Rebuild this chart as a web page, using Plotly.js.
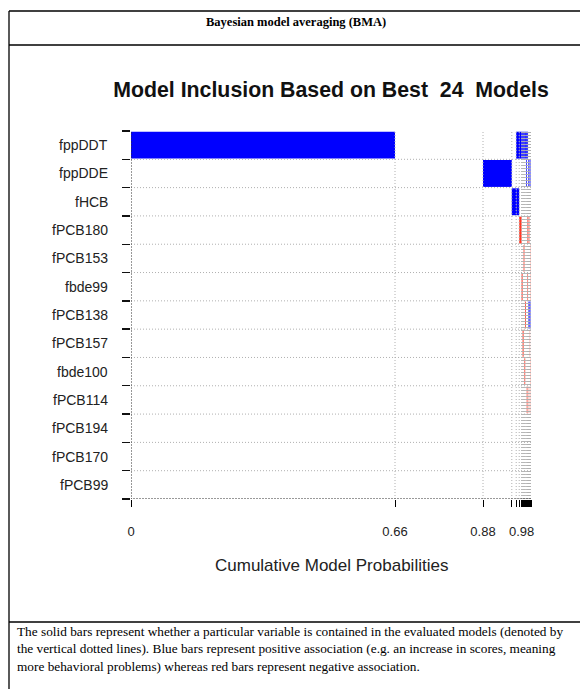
<!DOCTYPE html>
<html><head><meta charset="utf-8">
<script src="https://cdn.plot.ly/plotly-3.0.1.min.js"></script>
<style>html,body{margin:0;padding:0;background:#fff;} #chart{width:580px;height:689px;}</style>
</head><body><div id="chart"></div>
<script>
// ---- data ----
const variables = ['fppDDT','fppDDE','fHCB','fPCB180','fPCB153','fbde99','fPCB138','fPCB157','fbde100','fPCB114','fPCB194','fPCB170','fPCB99'];
const modelProbs = [0.66,0.22,0.072,0.011,0.0075,0.006,0.0025,0.0025,0.002,0.002,0.002,0.0018,0.0018,0.0015,0.0010,0.0009,0.0009,0.0008,0.0008,0.0007,0.0006,0.0006,0.0006,0.0005];
// sign of each variable in each of the 24 models: 1 positive, -1 negative, 0 not included
const inclusionSigns = [
  [1,0,0,0,1,1,1,1,1,1,1,1,1,1,0,0,0,0,0,0,0,0,0,0],          // fppDDT
  [0,0,1,0,0,0,0,0,0,0,0,1,0,0,1,1,0,1,0,1,0,1,0,1],          // fppDDE
  [0,0,0,1,1,0,0,0,0,0,0,0,0,0,0,0,0,0,0,0,0,0,0,0],          // fHCB
  [0,0,0,0,0,-1,0,0,0,0,0,0,0,-1,-1,0,0,-1,0,0,0,0,0,0],      // fPCB180
  [0,0,0,0,0,0,0,0,-1,0,0,0,0,0,0,0,0,0,0,0,-1,0,0,0],        // fPCB153
  [0,0,0,0,0,0,-1,0,0,0,0,0,0,-1,0,0,0,0,0,0,0,0,-1,0],       // fbde99
  [0,0,0,0,0,0,0,0,0,0,-1,0,0,0,0,1,1,1,1,0,1,0,1,0],         // fPCB138
  [0,0,0,0,0,0,0,-1,0,0,0,0,0,0,0,0,0,0,0,-1,0,0,0,0],        // fPCB157
  [0,0,0,0,0,0,0,0,0,-1,0,0,0,0,0,0,0,0,0,0,0,-1,0,0],        // fbde100
  [0,0,0,0,0,0,0,0,0,0,0,0,-1,0,0,0,-1,0,0,0,0,0,0,-1],       // fPCB114
  [0,0,0,0,0,0,0,0,0,0,0,0,0,0,0,0,0,0,0,0,0,0,0,0],          // fPCB194
  [0,0,0,0,0,0,0,0,0,0,0,0,0,0,0,0,0,0,0,0,0,0,0,0],          // fPCB170
  [0,0,0,0,0,0,0,0,0,0,0,0,0,0,0,0,0,0,0,0,0,0,0,0]           // fPCB99
];
const labeledBoundaries = [0,1,2,6];

// ---- build ----
const cum = [0];
modelProbs.forEach(p => cum.push(cum[cum.length-1] + p));
const nv = variables.length;
const rowPos = i => nv - 1 - i;

const bx = [], by = [], bbase = [], bcol = [];
inclusionSigns.forEach((row, i) => {
  row.forEach((s, j) => {
    if (s !== 0) {
      by.push(rowPos(i)); bx.push(modelProbs[j]); bbase.push(cum[j]);
      bcol.push(s > 0 ? '#0000FF' : '#FF3A28');
    }
  });
});

const cells = {type:'bar', orientation:'h', x:bx, y:by, base:bbase, width:0.95,
  marker:{color:bcol, line:{width:0}}, hoverinfo:'skip', showlegend:false};

// grid lines
const hx = [], hy = [];
for (let k = 0; k < nv - 1; k++) { hx.push(0, 1, null); hy.push(k + 0.5, k + 0.5, null); }
const vx = [], vy = [];
for (let j = 1; j < cum.length; j++) { vx.push(cum[j], cum[j], null); vy.push(-0.5, nv - 0.5, null); }
const gridStyle = {color:'#B0B0B0', width:1, dash:'1px,2px'};
const hGrid = {type:'scatter', mode:'lines', x:hx, y:hy, line:gridStyle, hoverinfo:'skip', showlegend:false};
const vGrid = {type:'scatter', mode:'lines', x:vx, y:vy, line:gridStyle, hoverinfo:'skip', showlegend:false};
const frame = {type:'scatter', mode:'lines', x:[1, 0, 0], y:[-0.5, -0.5, nv - 0.5],
  line:{color:'#333', width:1, dash:'2px,1px'}, hoverinfo:'skip', showlegend:false};

const tickText = cum.map((v, j) => labeledBoundaries.includes(j) ? String(+v.toFixed(2)) : '');
const rowBounds = [];
for (let k = -1; k < nv; k++) rowBounds.push(k + 0.5);

// layout pixel helpers
const L = 131, R = 49, T = 131, B = 190, W = 580, H = 689;
const PW = W - L - R;
const px = p => (p - L) / PW;
const py = p => (H - B - p) / (H - T - B);
const yRange = [-0.5, nv - 0.5];

// variable labels centred on each row
const rowLabels = variables.map((v, i) => ({text:v, xref:'paper', yref:'y', x:px(110), y:rowPos(i),
  xanchor:'right', yanchor:'middle', showarrow:false, font:{size:14, color:'#222'}}));

const border = {type:'line', xref:'paper', yref:'paper', line:{color:'#000', width:1.3}};
const layout = {
  width:W, height:H, margin:{l:L, r:R, t:T, b:B},
  paper_bgcolor:'#fff', plot_bgcolor:'#fff', barmode:'overlay',
  font:{family:'Liberation Sans, Arial, sans-serif', color:'#222'},
  title:{text:'Model Inclusion Based on Best\u00A0 24\u00A0 Models', font:{size:21.3, weight:'bold', color:'#111'},
    x:331/W, xanchor:'center', xref:'container', y:1 - 90/H, yanchor:'middle', yref:'container'},
  xaxis:{range:[0,1], tickmode:'array', tickvals:cum, ticktext:tickText, ticks:'outside', ticklen:7,
    tickcolor:'#000', tickwidth:1, showgrid:false, zeroline:false, showline:false,
    tickfont:{size:13, color:'#222'}, ticklabelstandoff:13, fixedrange:true},
  yaxis:{range:yRange, tickmode:'array', tickvals:rowBounds, ticktext:rowBounds.map(() => ''),
    ticks:'outside', ticklen:8, tickcolor:'#111', tickwidth:1.3, showticklabels:true,
    showgrid:false, zeroline:false, showline:false, fixedrange:true},
  annotations:rowLabels.concat([
    {text:'Cumulative Model Probabilities', xref:'paper', yref:'paper', x:px(331), y:py(565),
      showarrow:false, font:{size:17, color:'#222'}, xanchor:'center', yanchor:'middle'},
    {text:'<b>Bayesian model averaging (BMA)</b>', xref:'paper', yref:'paper', x:px(296), y:py(22),
      showarrow:false, font:{family:'Liberation Serif, Times New Roman, serif', size:12.5, color:'#000'}, xanchor:'center', yanchor:'middle'},
    {text:'The solid bars represent whether a particular variable is contained in the evaluated models (denoted by<br>' +
          'the vertical dotted lines). Blue bars represent positive association (e.g. an increase in scores, meaning<br>' +
          'more behavioral problems) whereas red bars represent negative association.',
      xref:'paper', yref:'paper', x:px(16), y:py(623), showarrow:false, align:'left', borderpad:0,
      font:{family:'Liberation Serif, Times New Roman, serif', size:13.3, color:'#000'}, xanchor:'left', yanchor:'top'}
  ]),
  shapes:[
    Object.assign({x0:px(9), x1:px(580), y0:py(11), y1:py(11)}, border),
    Object.assign({x0:px(9), x1:px(580), y0:py(45), y1:py(45)}, border),
    Object.assign({x0:px(9), x1:px(580), y0:py(622), y1:py(622)}, border),
    Object.assign({x0:px(9), x1:px(9), y0:py(11), y1:py(689)}, border)
  ]
};
Plotly.newPlot('chart', [cells, hGrid, vGrid, frame], layout, {staticPlot:true, displayModeBar:false});
</script></body></html>
